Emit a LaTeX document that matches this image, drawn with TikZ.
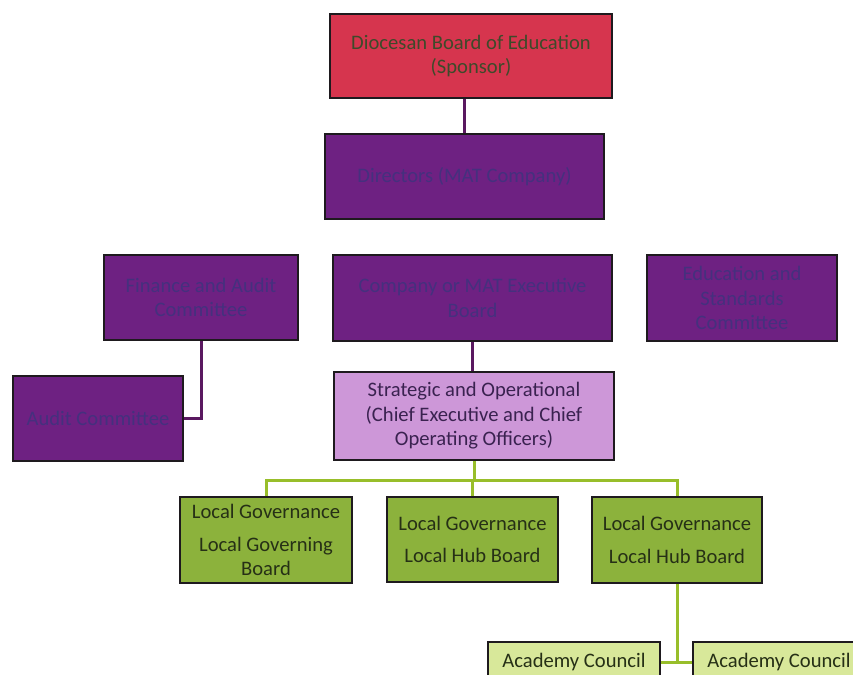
\documentclass[tikz,border=0pt]{standalone}
\usepackage{fontspec}
\setmainfont{Carlito}
\definecolor{redfill}{HTML}{D6354E}
\definecolor{redtext}{HTML}{3E4A2A}
\definecolor{purfill}{HTML}{6E2182}
\definecolor{purtext}{HTML}{45307E}
\definecolor{lavfill}{HTML}{CD97D8}
\definecolor{lavtext}{HTML}{3A2250}
\definecolor{grnfill}{HTML}{8CB23C}
\definecolor{grntext}{HTML}{263016}
\definecolor{acfill}{HTML}{D8E89A}
\definecolor{boxline}{HTML}{1E1A1E}
\definecolor{pline}{HTML}{5A1860}
\definecolor{gline}{HTML}{98BE2A}
\begin{document}
\begin{tikzpicture}[x=1pt,y=-1pt,
  box/.style={draw=boxline, line width=2pt, align=center, inner sep=0pt,
    font=\fontsize{20.6}{24.5}\selectfont},
  redbox/.style={box, fill=redfill, text=redtext},
  purbox/.style={box, fill=purfill, text=purtext},
  lavbox/.style={box, fill=lavfill, text=lavtext},
  grnbox/.style={box, fill=grnfill, text=grntext},
  acbox/.style={box, fill=acfill, text=grntext},
  plink/.style={draw=pline, line width=3pt},
  glink/.style={draw=gline, line width=3pt}]
\useasboundingbox (0,0) rectangle (853,674);
\clip (0,0) rectangle (853,674);
\fill[white] (0,0) rectangle (853,674);

\node[redbox, minimum width=282pt, minimum height=84pt] (dbe) at (471,56)
  {Diocesan Board of Education\\(Sponsor)};
\node[purbox, minimum width=279pt, minimum height=85pt] (mat) at (464.5,176.5)
  {Directors (MAT Company)};
\node[purbox, minimum width=194pt, minimum height=85pt] (fin) at (201,297.5)
  {Finance and Audit\\Committee};
\node[purbox, minimum width=279pt, minimum height=86pt] (exec) at (472.5,298)
  {Company or MAT Executive\\Board};
\node[purbox, minimum width=190pt, minimum height=86pt] (edu) at (742,298)
  {Education and\\Standards\\Committee};
\node[purbox, minimum width=170pt, minimum height=85pt] (audit) at (98,418.5)
  {Audit Committee};
\node[lavbox, minimum width=280pt, minimum height=88pt] (strat) at (474,416)
  {Strategic and Operational\\(Chief Executive and Chief\\Operating Officers)};
\node[grnbox, minimum width=172pt, minimum height=86pt] (lg1) at (266,540)
  {Local Governance\\[8pt]Local Governing\\Board};
\node[grnbox, minimum width=171pt, minimum height=85pt] (lg2) at (472.5,539.5)
  {Local Governance\\[8pt]Local Hub Board};
\node[grnbox, minimum width=170pt, minimum height=86pt] (lg3) at (677,540)
  {Local Governance\\[8pt]Local Hub Board};
\node[acbox, minimum width=172pt, minimum height=40pt] (ac1) at (574,662)
  {Academy Council};
\node[acbox, minimum width=172pt, minimum height=40pt] (ac2) at (779,662)
  {Academy Council};

\coordinate (bus) at (0,480);

\draw[plink] (mat.north |- dbe.south) -- (mat.north);
\draw[plink] (fin.south) |- (audit.east);
\draw[plink] (exec.south) -- (exec.south |- strat.north);
\draw[glink] (strat.south) -- (strat.south |- bus);
\draw[glink] (lg1.north) -- (lg1.north |- bus) -- (lg3.north |- bus) -- (lg3.north);
\draw[glink] (lg2.north) -- (lg2.north |- bus);
\draw[glink] (lg3.south) -- (lg3.south |- ac1.east);
\draw[glink] (ac1.east) -- (ac2.west);
\end{tikzpicture}
\end{document}
